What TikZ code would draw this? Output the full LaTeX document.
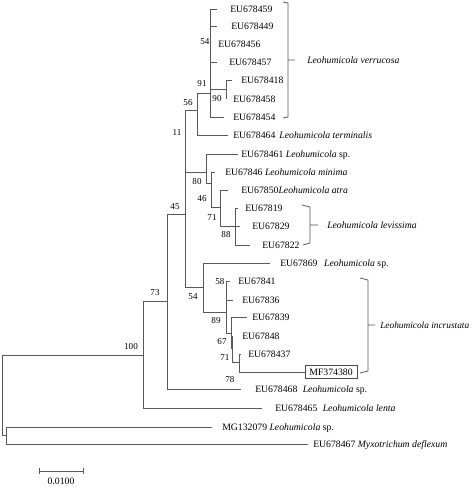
\documentclass[tikz,border=0pt]{standalone}
\usepackage{fontspec}
\setmainfont{Liberation Serif}

\begin{document}
\begin{tikzpicture}[x=0.75pt, y=-0.75pt,
      br/.style={draw=black!65, line width=0.75pt},
      lf/.style={anchor=base west, inner sep=0pt, yshift=-2.4pt, font=\fontsize{7.3}{8}\selectfont},
      bs/.style={inner sep=0pt, font=\fontsize{6.8}{8}\selectfont},
      cl/.style={lf, font=\fontsize{7.3}{8}\selectfont\itshape},
      box/.style={draw=black!70, line width=0.75pt, inner sep=0pt, minimum width=39pt, minimum height=9.5pt, font=\fontsize{7.3}{8}\selectfont}]
  \useasboundingbox (0,0) rectangle (474,487);

  % internal nodes
  \coordinate (root) at (3,395);
  \coordinate (nout) at (7,435.5);
  \coordinate (n100) at (143,355);
  \coordinate (n73) at (167,301);
  \coordinate (n45) at (185,214);
  \coordinate (n11) at (185,141);
  \coordinate (n56) at (197,110);
  \coordinate (n91) at (210,93);
  \coordinate (n90) at (226,89);
  \coordinate (n80) at (206,172);
  \coordinate (n46) at (211,183);
  \coordinate (n71a) at (220,207);
  \coordinate (n88) at (235,226);
  \coordinate (n54) at (203,287);
  \coordinate (n89) at (226,312);
  \coordinate (n58) at (226,290);
  \coordinate (n67) at (231,333);
  \coordinate (n71b) at (232,348);
  \coordinate (n78) at (239,362);

  % tips and labels
  \coordinate (t459) at (217,9);   \node[lf] (l459) at (230,9) {EU678459};
  \coordinate (t449) at (217,26);  \node[lf] (l449) at (231,26) {EU678449};
  \coordinate (t456) at (210,44);  \node[lf] (l456) at (218,44) {EU678456};
  \coordinate (t457) at (217,62);  \node[lf] (l457) at (229,62) {EU678457};
  \coordinate (t418) at (232,80);  \node[lf] (l418) at (241,80) {EU678418};
  \coordinate (t458) at (226,99);  \node[lf] (l458) at (233,99) {EU678458};
  \coordinate (t454) at (224,117); \node[lf] (l454) at (233,117) {EU678454};
  \coordinate (t464) at (228,135); \node[lf] (l464) at (233,135) {EU678464\hspace{3pt}\textit{Leohumicola terminalis}};
  \coordinate (t461) at (238,154); \node[lf] (l461) at (241,154) {EU678461 \textit{Leohumicola} sp.};
  \coordinate (t846) at (215,172); \node[lf] (l846) at (225,172) {EU67846 \textit{Leohumicola minima}};
  \coordinate (t850) at (228,190); \node[lf] (l850) at (241,190) {EU67850\textit{Leohumicola atra}};
  \coordinate (t819) at (238,208); \node[lf] (l819) at (245,208) {EU67819};
  \coordinate (t829) at (240,226); \node[lf] (l829) at (252,226) {EU67829};
  \coordinate (t822) at (250,245); \node[lf] (l822) at (262,245) {EU67822};
  \coordinate (t869) at (270,263); \node[lf] (l869) at (280,263) {EU67869\hspace{5pt}\textit{Leohumicola} sp.};
  \coordinate (t841) at (230,281); \node[lf] (l841) at (238,281) {EU67841};
  \coordinate (t836) at (233,300); \node[lf] (l836) at (242,300) {EU67836};
  \coordinate (t839) at (247,317); \node[lf] (l839) at (252,317) {EU67839};
  \coordinate (t848) at (232,336); \node[lf] (l848) at (242,336) {EU67848};
  \coordinate (t437) at (241,354); \node[lf] (l437) at (248,354) {EU678437};
  \node[box] (mf) at (331,372) {MF374380};
  \coordinate (t468) at (241,389); \node[lf] (l468) at (255,389) {EU678468\hspace{4pt}\textit{Leohumicola} sp.};
  \coordinate (t465) at (262,408); \node[lf] (l465) at (275,408) {EU678465\hspace{4pt}\textit{Leohumicola lenta}};
  \coordinate (tmg) at (212,427);  \node[lf] (lmg) at (222,427) {MG132079 \textit{Leohumicola} sp.};
  \coordinate (t467) at (308,444); \node[lf] (l467) at (313,444) {EU678467 \textit{Myxotrichum deflexum}};

  % branches
  \draw[br] (root) |- (n100) (root) |- (nout);
  \draw[br] (nout) |- (tmg) (nout) |- (t467);
  \draw[br] (n100) |- (n73) (n100) |- (t465);
  \draw[br] (n73) |- (n45) (n73) |- (t468);
  \draw[br] (n45) |- (n11) (n45) |- (n54);
  \draw[br] (n11) |- (n56) (n11) |- (n80);
  \draw[br] (n56) |- (n91) (n56) |- (t464);
  \draw[br] (n91) |- (t459) (n91) |- (t449) (n91) |- (t456) (n91) |- (t457)
            (n91) |- (n90) (n91) |- (t454);
  \draw[br] (n90) |- (t418) (n90) |- (t458);
  \draw[br] (n80) |- (t461) (n80) |- (n46);
  \draw[br] (n46) |- (t846) (n46) |- (n71a);
  \draw[br] (n71a) |- (t850) (n71a) |- (n88);
  \draw[br] (n88) |- (t819) (n88) |- (t829) (n88) |- (t822);
  \draw[br] (n54) |- (t869) (n54) |- (n89);
  \draw[br] (n89) |- (n58) (n89) |- (n67);
  \draw[br] (n58) |- (t841) (n58) |- (t836);
  \draw[br] (n67) |- (t839) (n67) |- (n71b);
  \draw[br] (n71b) |- (t848) (n71b) |- (n78);
  \draw[br] (n78) |- (t437) (n78) |- (mf.west);

  % bootstrap values
  \node[bs] (b54a) at (205,42) {54};
  \node[bs] (b91) at (202,84) {91};
  \node[bs] (b90) at (217,99) {90};
  \node[bs] (b56) at (188,103) {56};
  \node[bs] (b11) at (177,133) {11};
  \node[bs] (b80) at (197,182) {80};
  \node[bs] (b46) at (202,199) {46};
  \node[bs] (b45) at (175,207) {45};
  \node[bs] (b71a) at (212,218) {71};
  \node[bs] (b88) at (226,235) {88};
  \node[bs] (b58) at (220,282) {58};
  \node[bs] (b73) at (155,293) {73};
  \node[bs] (b54b) at (193,297) {54};
  \node[bs] (b89) at (216,321) {89};
  \node[bs] (b67) at (222,342) {67};
  \node[bs] (b100) at (131,347) {100};
  \node[bs] (b71b) at (225,358) {71};
  \node[bs] (b78) at (230,380) {78};

  % clade brackets
  \draw[br, line width=0.6pt] (283,2) -- (288,3) -- (288,117) -- (283,118) (288,60) -- (295,60);
  \node[cl] (cverr) at (307,60) {Leohumicola verrucosa};
  \draw[br, line width=0.6pt] (302,205) -- (310,207) -- (310,243) -- (303,245) (310,225) -- (318,225);
  \node[cl] (clev) at (327,225) {Leohumicola levissima};
  \draw[br, line width=0.6pt] (360,278) -- (368,280) -- (368,371) -- (360,373) (368,325) -- (375,325);
  \node[cl, font=\fontsize{7}{8}\selectfont\itshape] (cinc) at (380,325) {Leohumicola incrustata};

  % scale bar
  \coordinate (sb0) at (39,471);
  \coordinate (sb1) at (83,471);
  \draw[br] (sb0) -- (sb1) ([yshift=2.5pt]sb0) -- ([yshift=-2.5pt]sb0) ([yshift=2.5pt]sb1) -- ([yshift=-2.5pt]sb1);
  \node[bs, font=\fontsize{7.3}{8}\selectfont] (sblab) at (61,481) {0.0100};
\end{tikzpicture}
\end{document}
